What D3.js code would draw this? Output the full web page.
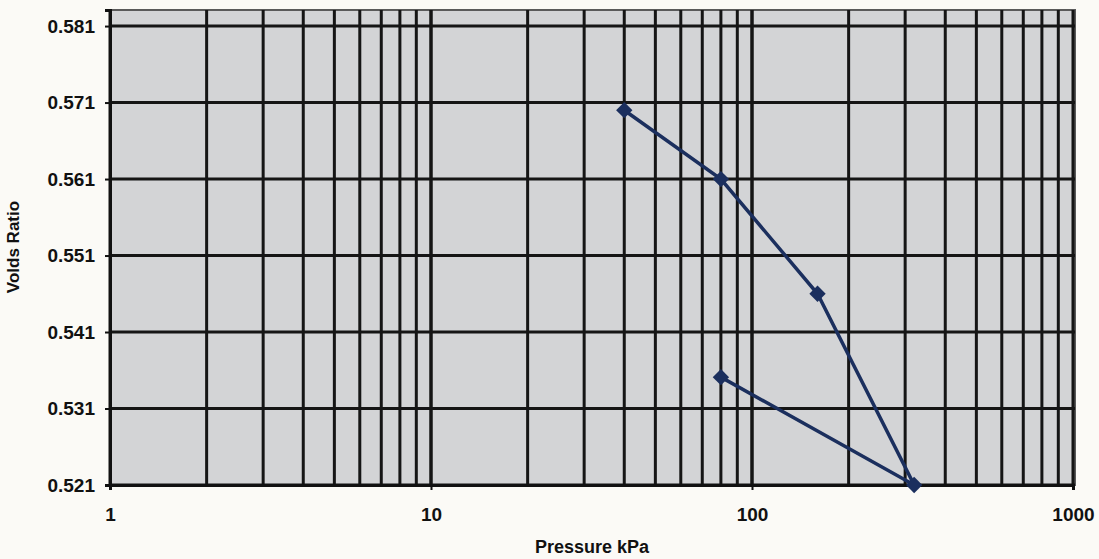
<!DOCTYPE html>
<html><head><meta charset="utf-8">
<script src="https://cdn.jsdelivr.net/npm/d3@7"></script>
<style>
html,body{margin:0;padding:0;background:#fbfaf6;}
text{font-family:"Liberation Sans",Arial,sans-serif;font-weight:bold;fill:#111;}
</style></head>
<body><svg id="c" width="1099" height="559"></svg>
<script>
const pressure = [40, 80, 160, 320, 80];
const voidsRatio = [0.570, 0.561, 0.546, 0.521, 0.5351];
const yTicks = [0.521, 0.531, 0.541, 0.551, 0.561, 0.571, 0.581];
const xTicks = [1, 10, 100, 1000];
const xLabel = "Pressure kPa";
const yLabel = "Volds Ratio";

const svg = d3.select("#c");
const L = 110, R = 1073, T = 10, B = 485;
const x = d3.scaleLog().domain([1, 1000]).range([L, R]);
const y = d3.scaleLinear().domain([0.521, 0.5831]).range([B, T]);

svg.append("rect").attr("x", L).attr("y", T).attr("width", R + 2 - L).attr("height", B - T)
  .attr("fill", "#d3d4d6").attr("stroke", "#5a5a5a").attr("stroke-width", 2);

const minor = [];
for (let d = 1; d < 1000; d *= 10) for (let k = 1; k <= 10; k++) minor.push(d * k);
svg.append("g").selectAll("line").data(minor).join("line")
  .attr("x1", d => x(d)).attr("x2", d => x(d)).attr("y1", T).attr("y2", B)
  .attr("stroke", "#151515").attr("stroke-width", 3);
svg.append("g").selectAll("line").data(yTicks).join("line")
  .attr("x1", L).attr("x2", R + 2).attr("y1", d => y(d)).attr("y2", d => y(d))
  .attr("stroke", "#151515").attr("stroke-width", 3);

const ya = svg.append("g").attr("transform", `translate(${L},0)`)
  .call(d3.axisLeft(y).tickValues(yTicks).tickFormat(d3.format(".3f")).tickSize(5).tickPadding(10));
ya.select(".domain").attr("stroke", "#111").attr("stroke-width", 3);
ya.selectAll(".tick line").attr("stroke", "#111").attr("stroke-width", 2);
ya.selectAll("text").style("font-size", "19px").attr("fill", "#111");

const xa = svg.append("g").attr("transform", `translate(0,${B})`)
  .call(d3.axisBottom(x).tickValues(xTicks).tickFormat(d3.format("d")).tickSize(5).tickPadding(18));
xa.select(".domain").attr("stroke", "#111").attr("stroke-width", 3);
xa.selectAll(".tick line").attr("stroke", "#111").attr("stroke-width", 2);
xa.selectAll("text").style("font-size", "19px").attr("fill", "#111");

svg.append("text").attr("x", 592).attr("y", 553).attr("text-anchor", "middle")
  .style("font-size", "18px").text(xLabel);
svg.append("text").attr("transform", "translate(19,247) rotate(-90)").attr("text-anchor", "middle")
  .style("font-size", "17px").text(yLabel);

const pts = pressure.map((p, i) => [p, voidsRatio[i]]);
svg.append("path").datum(pts)
  .attr("d", d3.line().x(d => x(d[0])).y(d => y(d[1])))
  .attr("fill", "none").attr("stroke", "#1b2f5e").attr("stroke-width", 3.5);
svg.append("g").selectAll("path").data(pts).join("path")
  .attr("transform", d => `translate(${x(d[0])},${y(d[1])})`)
  .attr("d", d3.symbol().type(d3.symbolDiamond2).size(170))
  .attr("fill", "#1b2f5e");
</script></body></html>
